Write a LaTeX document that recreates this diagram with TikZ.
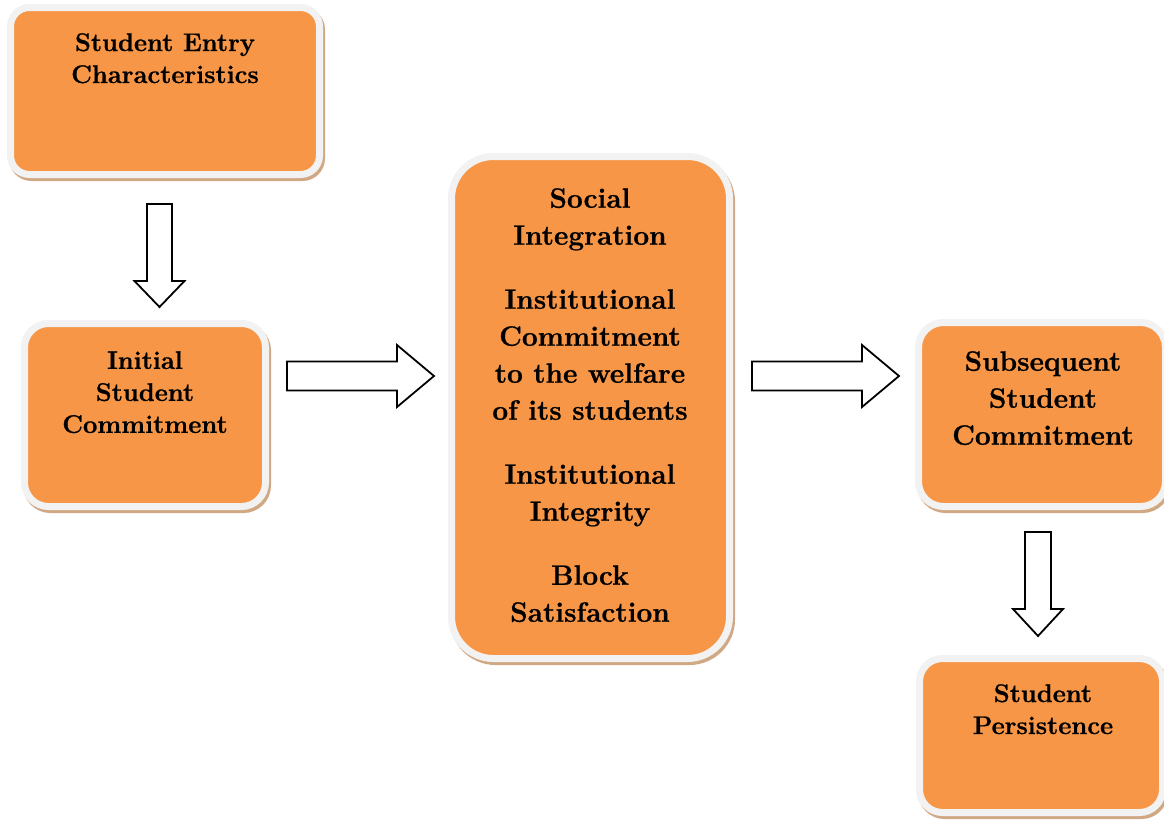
\documentclass[tikz,border=0pt]{standalone}
\usepackage{fontspec}
\setmainfont{Latin Modern Roman}[BoldFeatures={FakeBold=0.8}]
\definecolor{boxorange}{RGB}{247,150,70}
\definecolor{rim}{RGB}{242,242,242}
\definecolor{shade}{RGB}{208,168,132}
\tikzset{
  box/.style={draw=rim, line width=7pt, fill=boxorange, rounded corners=#1,
    inner sep=0pt, outer sep=0pt, anchor=north west},
  boxshadow/.style={draw=shade, line width=7pt, fill=shade, rounded corners=#1,
    inner sep=0pt, outer sep=0pt, anchor=north west},
  smalltxt/.style={font=\fontsize{25.5}{32}\selectfont\bfseries, align=center,
    anchor=north, inner sep=0pt},
  bigtxt/.style={font=\fontsize{28}{37}\selectfont\bfseries, align=center,
    anchor=north, inner sep=0pt},
  blockarrow/.style={draw=black, line width=1.8pt, fill=white, line join=miter}
}
\newcommand{\obox}[6]{%
  \node[boxshadow=#6, minimum width=#4pt, minimum height=#5pt] (#1-sh) at (#2+2,#3+3) {};
  \node[box=#6, minimum width=#4pt, minimum height=#5pt] (#1) at (#2,#3) {};
}
\begin{document}
\begin{tikzpicture}[x=1pt,y=-1pt]
\useasboundingbox (0,0) rectangle (1164,820);
\clip (0,0) rectangle (1164,820);
\fill[white] (0,0) rectangle (1164,820);

\obox{entry}{10.5}{7.5}{309}{167}{19}
\obox{initial}{24.5}{323.5}{241}{183}{24}
\obox{mid}{451.5}{156.5}{278}{502}{42}
\obox{subseq}{918.5}{322.5}{247}{184}{25}
\obox{persist}{919.5}{658.5}{243}{154}{23}

\node[smalltxt] (t-entry) at (165,33) {Student Entry\\Characteristics};
\node[smalltxt] (t-initial) at (145,351) {Initial\\Student\\Commitment};
\node[bigtxt] (t-mid) at (590,188) {Social\\Integration\\[27pt]
  Institutional\\Commitment\\to the welfare\\of its students\\[27pt]
  Institutional\\Integrity\\[27pt]
  Block\\Satisfaction};
\node[bigtxt] (t-subseq) at (1043,351) {Subsequent\\Student\\Commitment};
\node[smalltxt] (t-persist) at (1043,684) {Student\\Persistence};

% block arrows
\draw[blockarrow] (147,204) -- (172,204) -- (172,281) -- (184.5,281) -- (159.5,307)
  -- (134.5,281) -- (147,281) -- cycle;
\draw[blockarrow] (287,361.5) -- (397,361.5) -- (397,345) -- (434,376) -- (397,407)
  -- (397,390.5) -- (287,390.5) -- cycle;
\draw[blockarrow] (752,361.5) -- (862,361.5) -- (862,345) -- (899,376) -- (862,407)
  -- (862,390.5) -- (752,390.5) -- cycle;
\draw[blockarrow] (1025,532) -- (1051,532) -- (1051,609) -- (1063,609) -- (1038,636)
  -- (1013,609) -- (1025,609) -- cycle;
\end{tikzpicture}
\end{document}
